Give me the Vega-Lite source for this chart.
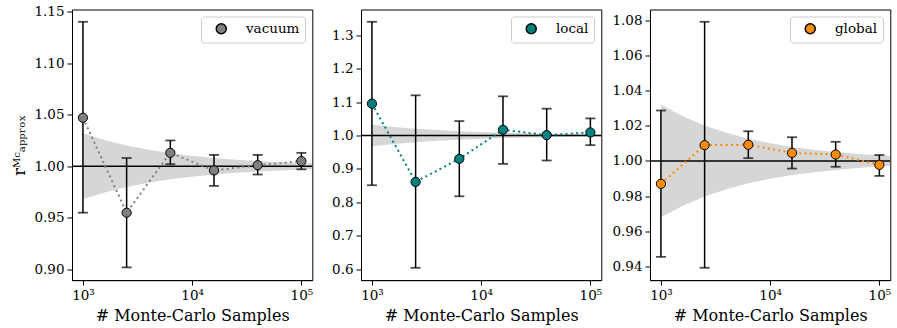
{
  "$schema": "https://vega.github.io/schema/vega-lite/v6.json",
  "padding": {"left": 11, "top": 3.5, "right": 5, "bottom": 5},
  "background": "white",
  "bounds": "flush",
  "spacing": 48,
  "datasets": {
    "pts": [
      {"panel": "vacuum", "N": 1000, "r": 1.047, "lo": 0.955, "hi": 1.140},
      {"panel": "vacuum", "N": 2512, "r": 0.955, "lo": 0.902, "hi": 1.008},
      {"panel": "vacuum", "N": 6310, "r": 1.013, "lo": 1.002, "hi": 1.025},
      {"panel": "vacuum", "N": 15849, "r": 0.996, "lo": 0.981, "hi": 1.011},
      {"panel": "vacuum", "N": 39811, "r": 1.001, "lo": 0.992, "hi": 1.011},
      {"panel": "vacuum", "N": 100000, "r": 1.005, "lo": 0.997, "hi": 1.013},
      {"panel": "local", "N": 1000, "r": 1.095, "lo": 0.851, "hi": 1.340},
      {"panel": "local", "N": 2512, "r": 0.861, "lo": 0.604, "hi": 1.120},
      {"panel": "local", "N": 6310, "r": 0.930, "lo": 0.818, "hi": 1.043},
      {"panel": "local", "N": 15849, "r": 1.017, "lo": 0.915, "hi": 1.117},
      {"panel": "local", "N": 39811, "r": 1.001, "lo": 0.925, "hi": 1.080},
      {"panel": "local", "N": 100000, "r": 1.009, "lo": 0.971, "hi": 1.051},
      {"panel": "global", "N": 1000, "r": 0.987, "lo": 0.9455, "hi": 1.0287},
      {"panel": "global", "N": 2512, "r": 1.009, "lo": 0.9393, "hi": 1.0791},
      {"panel": "global", "N": 6310, "r": 1.0092, "lo": 1.0016, "hi": 1.0169},
      {"panel": "global", "N": 15849, "r": 1.0046, "lo": 0.9957, "hi": 1.0135},
      {"panel": "global", "N": 39811, "r": 1.0037, "lo": 0.9967, "hi": 1.0109},
      {"panel": "global", "N": 100000, "r": 0.9978, "lo": 0.9915, "hi": 1.0034}
    ],
    "band": [
      {"N": 1000, "lo": 0.968, "hi": 1.032},
      {"N": 1585, "lo": 0.9746, "hi": 1.0254},
      {"N": 2512, "lo": 0.9798, "hi": 1.0202},
      {"N": 3981, "lo": 0.984, "hi": 1.016},
      {"N": 6310, "lo": 0.9873, "hi": 1.0127},
      {"N": 10000, "lo": 0.9899, "hi": 1.0101},
      {"N": 15849, "lo": 0.992, "hi": 1.008},
      {"N": 25119, "lo": 0.9936, "hi": 1.0064},
      {"N": 39811, "lo": 0.9949, "hi": 1.0051},
      {"N": 63096, "lo": 0.996, "hi": 1.004},
      {"N": 100000, "lo": 0.9968, "hi": 1.0032},
      {"N": 125893, "lo": 0.9971, "hi": 1.0029}
    ],
    "one": [{"k": 1}]
  },
  "hconcat": [
    {
      "width": 240.3,
      "height": 270.6,
      "layer": [
        {
          "data": {"name": "band"},
          "mark": {"type": "area", "color": "#d6d6d6", "clip": true},
          "encoding": {
            "x": {"field": "N", "type": "quantitative", "scale": {"type": "log", "domain": [794.3, 125893], "nice": false},
                  "axis": {"values": [1000, 10000, 100000], "labelExpr": "datum.value == 1000 ? '10³' : datum.value == 10000 ? '10⁴' : '10⁵'"},
                  "title": "# Monte-Carlo Samples"},
            "y": {"field": "lo", "type": "quantitative", "scale": {"domain": [0.8897, 1.1519], "nice": false, "zero": false},
                  "axis": {"values": [0.90, 0.95, 1.00, 1.05, 1.10, 1.15], "format": ".2f"},
                  "title": "rᴹᶜₐₚₚᵣₒₓ"},
            "y2": {"field": "hi"}
          }
        },
        {
          "data": {"name": "one"},
          "mark": {"type": "rule", "color": "black", "strokeWidth": 1.5},
          "encoding": {"y": {"datum": 1, "type": "quantitative", "scale": {"domain": [0.8897, 1.1519], "nice": false, "zero": false}, "axis": {"values": [0.90, 0.95, 1.00, 1.05, 1.10, 1.15], "format": ".2f"}, "title": "rᴹᶜₐₚₚᵣₒₓ"}}
        },
        {
          "data": {"name": "pts"},
          "transform": [{"filter": "datum.panel == 'vacuum'"}],
          "layer": [
            {"mark": {"type": "rule", "color": "black", "strokeWidth": 1.5},
             "encoding": {"x": {"field": "N", "type": "quantitative"}, "y": {"field": "lo", "type": "quantitative", "scale": {"domain": [0.8897, 1.1519], "nice": false, "zero": false}, "axis": {"values": [0.90, 0.95, 1.00, 1.05, 1.10, 1.15], "format": ".2f"}, "title": "rᴹᶜₐₚₚᵣₒₓ"}, "y2": {"field": "hi"}}},
            {"mark": {"type": "tick", "orient": "horizontal", "color": "black", "size": 10, "thickness": 1.8},
             "encoding": {"x": {"field": "N", "type": "quantitative"}, "y": {"field": "hi", "type": "quantitative", "scale": {"domain": [0.8897, 1.1519], "nice": false, "zero": false}, "axis": {"values": [0.90, 0.95, 1.00, 1.05, 1.10, 1.15], "format": ".2f"}, "title": "rᴹᶜₐₚₚᵣₒₓ"}}},
            {"mark": {"type": "tick", "orient": "horizontal", "color": "black", "size": 10, "thickness": 1.8},
             "encoding": {"x": {"field": "N", "type": "quantitative"}, "y": {"field": "lo", "type": "quantitative", "scale": {"domain": [0.8897, 1.1519], "nice": false, "zero": false}, "axis": {"values": [0.90, 0.95, 1.00, 1.05, 1.10, 1.15], "format": ".2f"}, "title": "rᴹᶜₐₚₚᵣₒₓ"}}},
            {"mark": {"type": "line", "color": "#808080", "strokeWidth": 2, "strokeDash": [2, 3.3]},
             "encoding": {"x": {"field": "N", "type": "quantitative"}, "y": {"field": "r", "type": "quantitative", "scale": {"domain": [0.8897, 1.1519], "nice": false, "zero": false}, "axis": {"values": [0.90, 0.95, 1.00, 1.05, 1.10, 1.15], "format": ".2f"}, "title": "rᴹᶜₐₚₚᵣₒₓ"}}},
            {"mark": {"type": "point", "filled": true, "size": 85, "stroke": "black", "strokeWidth": 1, "opacity": 1},
             "encoding": {"x": {"field": "N", "type": "quantitative"}, "y": {"field": "r", "type": "quantitative", "scale": {"domain": [0.8897, 1.1519], "nice": false, "zero": false}, "axis": {"values": [0.90, 0.95, 1.00, 1.05, 1.10, 1.15], "format": ".2f"}, "title": "rᴹᶜₐₚₚᵣₒₓ"},
                          "color": {"field": "panel", "type": "nominal", "scale": {"domain": ["vacuum"], "range": ["#808080"]},
                                    "legend": {"title": null, "encode": {"symbols": {"update": {"stroke": {"value": "black"}, "strokeWidth": {"value": 1}}}}}}}}
          ]
        }
      ]
    },
    {
      "width": 240.3,
      "height": 270.6,
      "layer": [
        {
          "data": {"name": "band"},
          "mark": {"type": "area", "color": "#d6d6d6", "clip": true},
          "encoding": {
            "x": {"field": "N", "type": "quantitative", "scale": {"type": "log", "domain": [794.3, 125893], "nice": false},
                  "axis": {"values": [1000, 10000, 100000], "labelExpr": "datum.value == 1000 ? '10³' : datum.value == 10000 ? '10⁴' : '10⁵'"},
                  "title": "# Monte-Carlo Samples"},
            "y": {"field": "lo", "type": "quantitative", "scale": {"domain": [0.5672, 1.3768], "nice": false, "zero": false},
                  "axis": {"values": [0.6, 0.7, 0.8, 0.9, 1.0, 1.1, 1.2, 1.3], "format": ".1f", "labelOverlap": false}, "title": null},
            "y2": {"field": "hi"}
          }
        },
        {
          "data": {"name": "one"},
          "mark": {"type": "rule", "color": "black", "strokeWidth": 1.5},
          "encoding": {"y": {"datum": 1, "type": "quantitative", "scale": {"domain": [0.5672, 1.3768], "nice": false, "zero": false}, "axis": {"values": [0.6, 0.7, 0.8, 0.9, 1.0, 1.1, 1.2, 1.3], "format": ".1f", "labelOverlap": false}, "title": null}}
        },
        {
          "data": {"name": "pts"},
          "transform": [{"filter": "datum.panel == 'local'"}],
          "layer": [
            {"mark": {"type": "rule", "color": "black", "strokeWidth": 1.5},
             "encoding": {"x": {"field": "N", "type": "quantitative"}, "y": {"field": "lo", "type": "quantitative", "scale": {"domain": [0.5672, 1.3768], "nice": false, "zero": false}, "axis": {"values": [0.6, 0.7, 0.8, 0.9, 1.0, 1.1, 1.2, 1.3], "format": ".1f", "labelOverlap": false}, "title": null}, "y2": {"field": "hi"}}},
            {"mark": {"type": "tick", "orient": "horizontal", "color": "black", "size": 10, "thickness": 1.8},
             "encoding": {"x": {"field": "N", "type": "quantitative"}, "y": {"field": "hi", "type": "quantitative", "scale": {"domain": [0.5672, 1.3768], "nice": false, "zero": false}, "axis": {"values": [0.6, 0.7, 0.8, 0.9, 1.0, 1.1, 1.2, 1.3], "format": ".1f", "labelOverlap": false}, "title": null}}},
            {"mark": {"type": "tick", "orient": "horizontal", "color": "black", "size": 10, "thickness": 1.8},
             "encoding": {"x": {"field": "N", "type": "quantitative"}, "y": {"field": "lo", "type": "quantitative", "scale": {"domain": [0.5672, 1.3768], "nice": false, "zero": false}, "axis": {"values": [0.6, 0.7, 0.8, 0.9, 1.0, 1.1, 1.2, 1.3], "format": ".1f", "labelOverlap": false}, "title": null}}},
            {"mark": {"type": "line", "color": "#008080", "strokeWidth": 2, "strokeDash": [2, 3.3]},
             "encoding": {"x": {"field": "N", "type": "quantitative"}, "y": {"field": "r", "type": "quantitative", "scale": {"domain": [0.5672, 1.3768], "nice": false, "zero": false}, "axis": {"values": [0.6, 0.7, 0.8, 0.9, 1.0, 1.1, 1.2, 1.3], "format": ".1f", "labelOverlap": false}, "title": null}}},
            {"mark": {"type": "point", "filled": true, "size": 85, "stroke": "black", "strokeWidth": 1, "opacity": 1},
             "encoding": {"x": {"field": "N", "type": "quantitative"}, "y": {"field": "r", "type": "quantitative", "scale": {"domain": [0.5672, 1.3768], "nice": false, "zero": false}, "axis": {"values": [0.6, 0.7, 0.8, 0.9, 1.0, 1.1, 1.2, 1.3], "format": ".1f", "labelOverlap": false}, "title": null},
                          "color": {"field": "panel", "type": "nominal", "scale": {"domain": ["local"], "range": ["#008080"]},
                                    "legend": {"title": null, "encode": {"symbols": {"update": {"stroke": {"value": "black"}, "strokeWidth": {"value": 1}}}}}}}}
          ]
        }
      ]
    },
    {
      "width": 240.3,
      "height": 270.6,
      "layer": [
        {
          "data": {"name": "band"},
          "mark": {"type": "area", "color": "#d6d6d6", "clip": true},
          "encoding": {
            "x": {"field": "N", "type": "quantitative", "scale": {"type": "log", "domain": [794.3, 125893], "nice": false},
                  "axis": {"values": [1000, 10000, 100000], "labelExpr": "datum.value == 1000 ? '10³' : datum.value == 10000 ? '10⁴' : '10⁵'"},
                  "title": "# Monte-Carlo Samples"},
            "y": {"field": "lo", "type": "quantitative", "scale": {"domain": [0.9323, 1.0861], "nice": false, "zero": false},
                  "axis": {"values": [0.94, 0.96, 0.98, 1.00, 1.02, 1.04, 1.06, 1.08], "format": ".2f", "labelOverlap": false}, "title": null},
            "y2": {"field": "hi"}
          }
        },
        {
          "data": {"name": "one"},
          "mark": {"type": "rule", "color": "black", "strokeWidth": 1.5},
          "encoding": {"y": {"datum": 1, "type": "quantitative", "scale": {"domain": [0.9323, 1.0861], "nice": false, "zero": false}, "axis": {"values": [0.94, 0.96, 0.98, 1.00, 1.02, 1.04, 1.06, 1.08], "format": ".2f", "labelOverlap": false}, "title": null}}
        },
        {
          "data": {"name": "pts"},
          "transform": [{"filter": "datum.panel == 'global'"}],
          "layer": [
            {"mark": {"type": "rule", "color": "black", "strokeWidth": 1.5},
             "encoding": {"x": {"field": "N", "type": "quantitative"}, "y": {"field": "lo", "type": "quantitative", "scale": {"domain": [0.9323, 1.0861], "nice": false, "zero": false}, "axis": {"values": [0.94, 0.96, 0.98, 1.00, 1.02, 1.04, 1.06, 1.08], "format": ".2f", "labelOverlap": false}, "title": null}, "y2": {"field": "hi"}}},
            {"mark": {"type": "tick", "orient": "horizontal", "color": "black", "size": 10, "thickness": 1.8},
             "encoding": {"x": {"field": "N", "type": "quantitative"}, "y": {"field": "hi", "type": "quantitative", "scale": {"domain": [0.9323, 1.0861], "nice": false, "zero": false}, "axis": {"values": [0.94, 0.96, 0.98, 1.00, 1.02, 1.04, 1.06, 1.08], "format": ".2f", "labelOverlap": false}, "title": null}}},
            {"mark": {"type": "tick", "orient": "horizontal", "color": "black", "size": 10, "thickness": 1.8},
             "encoding": {"x": {"field": "N", "type": "quantitative"}, "y": {"field": "lo", "type": "quantitative", "scale": {"domain": [0.9323, 1.0861], "nice": false, "zero": false}, "axis": {"values": [0.94, 0.96, 0.98, 1.00, 1.02, 1.04, 1.06, 1.08], "format": ".2f", "labelOverlap": false}, "title": null}}},
            {"mark": {"type": "line", "color": "#ff8c00", "strokeWidth": 2, "strokeDash": [2, 3.3]},
             "encoding": {"x": {"field": "N", "type": "quantitative"}, "y": {"field": "r", "type": "quantitative", "scale": {"domain": [0.9323, 1.0861], "nice": false, "zero": false}, "axis": {"values": [0.94, 0.96, 0.98, 1.00, 1.02, 1.04, 1.06, 1.08], "format": ".2f", "labelOverlap": false}, "title": null}}},
            {"mark": {"type": "point", "filled": true, "size": 85, "stroke": "black", "strokeWidth": 1, "opacity": 1},
             "encoding": {"x": {"field": "N", "type": "quantitative"}, "y": {"field": "r", "type": "quantitative", "scale": {"domain": [0.9323, 1.0861], "nice": false, "zero": false}, "axis": {"values": [0.94, 0.96, 0.98, 1.00, 1.02, 1.04, 1.06, 1.08], "format": ".2f", "labelOverlap": false}, "title": null},
                          "color": {"field": "panel", "type": "nominal", "scale": {"domain": ["global"], "range": ["#ff8c00"]},
                                    "legend": {"title": null, "encode": {"symbols": {"update": {"stroke": {"value": "black"}, "strokeWidth": {"value": 1}}}}}}}}
          ]
        }
      ]
    }
  ],
  "resolve": {"scale": {"x": "independent", "y": "independent", "color": "independent"}, "legend": {"color": "independent"}},
  "config": {
    "view": {"stroke": "black", "strokeWidth": 1},
    "font": "DejaVu Serif",
    "axis": {
      "grid": false,
      "domainColor": "black",
      "domainWidth": 1,
      "tickColor": "black",
      "tickWidth": 1,
      "tickSize": 5,
      "labelColor": "black",
      "labelFont": "DejaVu Serif",
      "labelFontSize": 13.5,
      "labelPadding": 3,
      "labelOverlap": false,
      "labelFlush": false,
      "titleColor": "black",
      "titleFont": "DejaVu Serif",
      "titleFontSize": 16,
      "titleFontWeight": "normal",
      "titlePadding": 6
    },
    "legend": {
      "orient": "top-right",
      "offset": 7,
      "fillColor": "white",
      "strokeColor": "#cccccc",
      "cornerRadius": 3,
      "padding": 5.5,
      "labelFont": "DejaVu Serif",
      "labelFontSize": 13.5,
      "labelColor": "black",
      "symbolType": "circle",
      "symbolSize": 100,
      "symbolOffset": 8,
      "labelOffset": 18
    }
  }
}
